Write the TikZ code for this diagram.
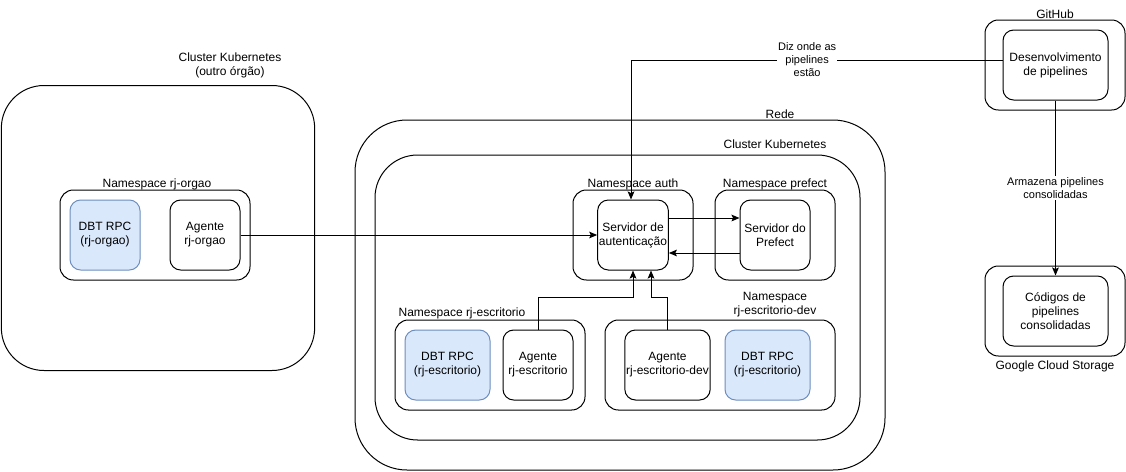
\documentclass[tikz,border=0pt]{standalone}
\usepackage{fontspec}
\setmainfont{Liberation Sans}
\usepackage{tikz}
\usetikzlibrary{arrows.meta, positioning}
\definecolor{dbtfill}{HTML}{DAE8FC}
\definecolor{dbtline}{HTML}{6C8EBF}
\tikzstyle{box} = [rectangle, draw, line width=0.75pt, rounded corners=8pt, align=center, inner sep=1pt, font=\fontsize{9}{10.5}\selectfont]
\tikzstyle{svc} = [box, minimum width=52.5pt, minimum height=52.5pt]
\tikzstyle{dbt} = [svc, fill=dbtfill, draw=dbtline]
\tikzstyle{ns} = [box, rounded corners=10pt, minimum height=67.5pt]
\tikzstyle{lbl} = [align=center, inner sep=1pt, font=\fontsize{9}{10.5}\selectfont]
\tikzstyle{elbl} = [align=center, inner sep=1pt, fill=white, font=\fontsize{8.25}{9.75}\selectfont]
\tikzstyle{arrow} = [line width=0.75pt, -{Stealth[length=6pt, width=5pt, inset=1.2pt]}]

\begin{document}
\begin{tikzpicture}[x=0.75pt, y=-0.75pt]
\useasboundingbox (0,0) rectangle (1126,471);

% clusters
\node [box, rounded corners=32pt, minimum width=235pt, minimum height=213.75pt] (orgcluster) at (158,228) {};
\node [lbl] (orgclusterlbl) at (230,65) {Cluster Kubernetes\\(outro órgão)};
\node [box, rounded corners=39pt, minimum width=397.5pt, minimum height=262.5pt] (rede) at (620,295) {};
\node [lbl] (redelbl) at (780,114) {Rede};
\node [box, rounded corners=32pt, minimum width=363.75pt, minimum height=213.75pt] (cluster) at (617.5,297.5) {};
\node [lbl] (clusterlbl) at (775,144) {Cluster Kubernetes};

% namespaces
\node [ns, minimum width=142.5pt] (nsorgao) at (155,235) {};
\node [lbl] (nsorgaolbl) at (157,184) {Namespace rj-orgao};
\node [ns, minimum width=90pt] (nsauth) at (633,235) {};
\node [lbl] (nsauthlbl) at (633,184) {Namespace auth};
\node [ns, minimum width=90pt] (nsprefect) at (775,235) {};
\node [lbl] (nsprefectlbl) at (775,184) {Namespace prefect};
\node [ns, minimum width=142.5pt] (nsesc) at (490,365) {};
\node [lbl] (nsesclbl) at (462,313) {Namespace rj-escritorio};
\node [ns, minimum width=172.5pt] (nsdev) at (720,365) {};
\node [lbl] (nsdevlbl) at (775,305) {Namespace\\rj-escritorio-dev};
\node [ns, minimum width=105pt] (github) at (1055,65) {};
\node [lbl] (githublbl) at (1055,14) {GitHub};
\node [ns, minimum width=105pt] (gcs) at (1055,311) {};
\node [lbl] (gcslbl) at (1055,366) {Google Cloud Storage};

% services
\node [dbt] (dbtorgao) at (105,235) {DBT RPC\\(rj-orgao)};
\node [svc] (agorgao) at (205,235) {Agente\\rj-orgao};
\node [svc] (authsrv) at (633,235) {Servidor de\\autenticação};
\node [svc] (prefsrv) at (775,235) {Servidor do\\Prefect};
\node [dbt, minimum width=63.75pt] (dbtesc) at (447.5,365) {DBT RPC\\(rj-escritorio)};
\node [svc] (agesc) at (538,365) {Agente\\rj-escritorio};
\node [svc, minimum width=63.75pt] (agdev) at (667.5,365) {Agente\\rj-escritorio-dev};
\node [dbt, minimum width=63.75pt] (dbtdev) at (767.5,365) {DBT RPC\\(rj-escritorio)};
\node [svc, minimum width=78.75pt] (devpipe) at (1055.5,65) {Desenvolvimento\\de pipelines};
\node [svc, minimum width=78.75pt] (codes) at (1055.5,311) {Códigos de\\pipelines\\consolidadas};

% connectors
\draw [arrow] (agorgao) -- (authsrv);
\draw [arrow] ([yshift=12.75pt]authsrv.east) -- ([yshift=12.75pt]prefsrv.west);
\draw [arrow] ([yshift=-13.5pt]prefsrv.west) -- ([yshift=-13.5pt]authsrv.east);
\draw [arrow] (agesc.north) -- ++(0,-32) -| (authsrv.south);
\draw [arrow] (agdev.north) -- ++(0,-32) -| ([xshift=13.5pt]authsrv.south);
\draw [arrow] ([yshift=3.75pt]devpipe.west) -| node [elbl, pos=0.263] {Diz onde as\\pipelines\\estão} ([xshift=-1.5pt]authsrv.north);
\draw [arrow] (devpipe) -- node [elbl] {Armazena pipelines\\consolidadas} (codes);
\end{tikzpicture}
\end{document}
